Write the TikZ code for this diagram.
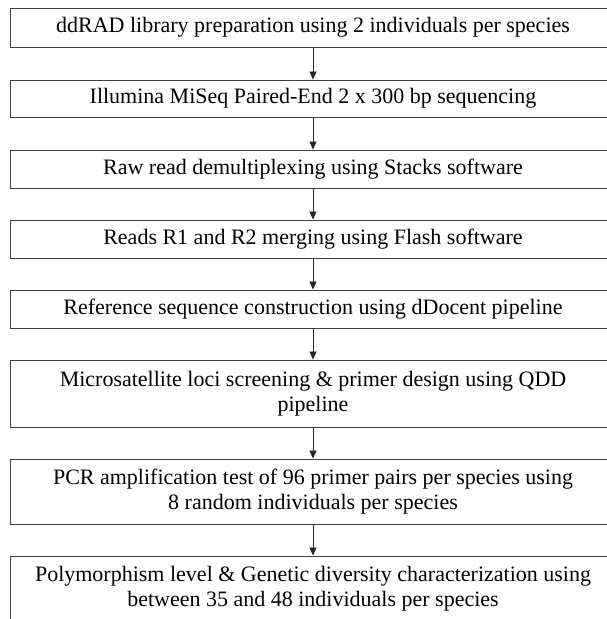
\documentclass[tikz,border=0pt]{standalone}
\usepackage{fontspec}
\setmainfont{Liberation Serif}
\usetikzlibrary{arrows.meta}

\tikzset{
  procbox/.style={draw=black!75, line width=0.9pt, minimum width=606pt,
    align=center, inner sep=0pt, font=\fontsize{22}{25.5}\selectfont},
  flowarrow/.style={draw=black!85, line width=0.8pt,
    -{Triangle[width=7pt,length=8pt]}}
}

\begin{document}
\begin{tikzpicture}[x=1pt,y=-1pt]
    \useasboundingbox (0,0) rectangle (607,619);
    \clip (0,0) rectangle (607,619);
    % steps of the workflow
    \node[procbox, minimum height=39pt] (s1) at (313,27.5)
        {ddRAD library preparation using 2 individuals per species};
    \node[procbox, minimum height=37pt] (s2) at (313,98.5)
        {Illumina MiSeq Paired-End 2 x 300 bp sequencing};
    \node[procbox, minimum height=38pt] (s3) at (313,169)
        {Raw read demultiplexing using Stacks software};
    \node[procbox, minimum height=38pt] (s4) at (313,239)
        {Reads R1 and R2 merging using Flash software};
    \node[procbox, minimum height=38pt] (s5) at (313,309)
        {Reference sequence construction using dDocent pipeline};
    \node[procbox, minimum height=67pt] (s6) at (313,393.5)
        {Microsatellite loci screening \& primer design using QDD\\pipeline};
    \node[procbox, minimum height=65pt] (s7) at (313,491.5)
        {PCR amplification test of 96 primer pairs per species using\\8 random individuals per species};
    \node[procbox, minimum height=65pt] (s8) at (313,588.5)
        {Polymorphism level \& Genetic diversity characterization using\\between 35 and 48 individuals per species};
    % connectors
    \foreach \a/\b in {s1/s2, s2/s3, s3/s4, s4/s5, s5/s6, s6/s7, s7/s8}
        \draw[flowarrow] (\a) -- (\b);
\end{tikzpicture}
\end{document}
